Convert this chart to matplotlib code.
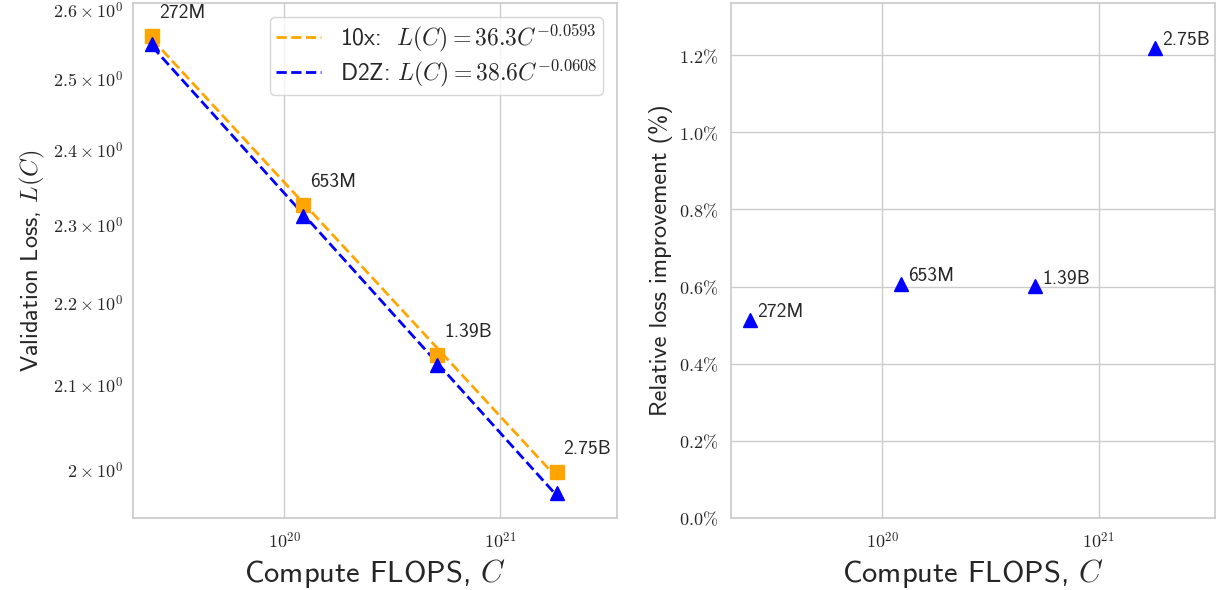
import numpy as np
import matplotlib
matplotlib.use('Agg')
import matplotlib.pyplot as plt
import matplotlib.ticker as mticker
import seaborn as sns

# --- Data ---
model_sizes = ['272M', '653M', '1.39B', '2.75B']
compute_flops = [2.45e19, 1.22e20, 5.1e20, 1.82e21]
loss_10x = [2.562, 2.326, 2.136, 1.998]
loss_d2z = [2.549, 2.312, 2.123, 1.974]
rel_improvement = [0.513, 0.607, 0.601, 1.218]  # percent
legend_10x = r'10x:  $L(C) = 36.3C^{-0.0593}$'
legend_d2z = r'D2Z: $L(C) = 38.6C^{-0.0608}$'
y_ticks_left = [2.0, 2.1, 2.2, 2.3, 2.4, 2.5, 2.6]

sns.set_theme(style='whitegrid')
plt.rcParams['font.family'] = ['cmss10', 'DejaVu Sans']
plt.rcParams['mathtext.fontset'] = 'cm'
plt.rcParams['axes.unicode_minus'] = False
plt.rcParams['axes.formatter.use_mathtext'] = True


def power_fit(x, y):
    # straight line in log-log space
    b, a = np.polyfit(np.log10(x), np.log10(y), 1)
    return 10 ** a * np.asarray(x) ** b


def pow10_fmt(v, p):
    return r'$10^{%d}$' % round(np.log10(v))


fig, (ax_loss, ax_rel) = plt.subplots(1, 2, figsize=(12.16, 5.9), dpi=100)
fig.subplots_adjust(left=0.1094, right=0.9995, top=0.995, bottom=0.122, wspace=0.2355)

# --- Left: validation loss vs compute ---
ax_loss.plot(compute_flops, power_fit(compute_flops, loss_10x), '--', color='orange',
             lw=2, label=legend_10x)
ax_loss.plot(compute_flops, power_fit(compute_flops, loss_d2z), '--', color='blue',
             lw=2, label=legend_d2z)
ax_loss.plot(compute_flops, loss_10x, 's', color='orange', ms=9.5)
ax_loss.plot(compute_flops, loss_d2z, '^', color='blue', ms=9.5)
for c, l, name in zip(compute_flops, loss_10x, model_sizes):
    ax_loss.annotate(name, (c, l), xytext=(5, 10), textcoords='offset points',
                     ha='left', va='bottom', fontsize=14, color='#262626')

ax_loss.set_xscale('log')
ax_loss.set_yscale('log')
ax_loss.set_xlim(2.0e19, 3.47e21)
ax_loss.set_ylim(1.946, 2.61)
ax_loss.yaxis.set_major_locator(mticker.NullLocator())
ax_loss.yaxis.set_minor_locator(mticker.FixedLocator(y_ticks_left))
ax_loss.yaxis.set_minor_formatter(mticker.FuncFormatter(
    lambda v, p: r'$%g\times10^{0}$' % v))
ax_loss.xaxis.set_major_formatter(mticker.FuncFormatter(pow10_fmt))
ax_loss.xaxis.set_minor_locator(mticker.NullLocator())
ax_loss.grid(False, axis='y', which='both')
ax_loss.tick_params(axis='both', which='both', labelsize=13)
ax_loss.set_xlabel(r'Compute FLOPS, $C$', fontsize=22)
ax_loss.set_ylabel(r'Validation Loss, $L(C)$', fontsize=17.5)
ax_loss.legend(loc='upper right', fontsize=17, handlelength=1.9, handletextpad=0.8,
               labelspacing=0.15, borderpad=0.25, borderaxespad=0.6)

# --- Right: relative improvement ---
ax_rel.plot(compute_flops, rel_improvement, '^', color='blue', ms=9.5)
for c, r, name in zip(compute_flops, rel_improvement, model_sizes):
    ax_rel.annotate(name, (c, r), xytext=(5, -1), textcoords='offset points',
                    ha='left', va='bottom', fontsize=14, color='#262626')
ax_rel.set_xscale('log')
ax_rel.set_xlim(2.0e19, 3.47e21)
ax_rel.set_ylim(0, 1.335)
ax_rel.yaxis.set_major_locator(mticker.MultipleLocator(0.2))
ax_rel.yaxis.set_major_formatter(mticker.FuncFormatter(
    lambda v, p: r'$%.1f\%%$' % v))
ax_rel.xaxis.set_major_formatter(mticker.FuncFormatter(pow10_fmt))
ax_rel.xaxis.set_minor_locator(mticker.NullLocator())
ax_rel.tick_params(axis='both', which='both', labelsize=13)
ax_rel.set_xlabel(r'Compute FLOPS, $C$', fontsize=22)
ax_rel.set_ylabel('Relative loss improvement (%)', fontsize=17.5)

fig.savefig('out.png', dpi=100)
